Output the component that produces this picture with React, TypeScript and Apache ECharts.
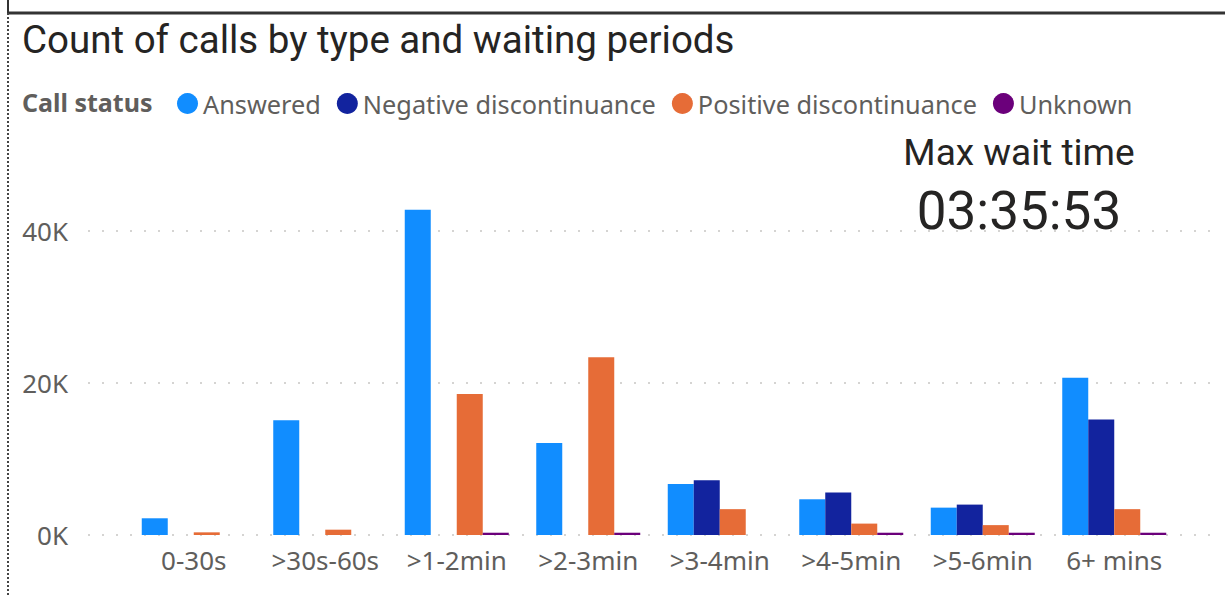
import React, { useEffect, useRef } from "react";
import * as echarts from "echarts";

const categories = ["0-30s", ">30s-60s", ">1-2min", ">2-3min", ">3-4min", ">4-5min", ">5-6min", "6+ mins"];
const answered = [2200, 15100, 42800, 12100, 6700, 4700, 3600, 20700];
const negative = [0, 0, 0, 0, 7200, 5600, 4000, 15200];
const positive = [350, 700, 18550, 23400, 3400, 1500, 1300, 3400];
const unknown = [0, 0, 300, 300, 0, 300, 300, 300];
const seriesNames = ["Answered", "Negative discontinuance", "Positive discontinuance", "Unknown"];
const seriesColors = ["#118DFF", "#12239E", "#E66C37", "#6B007B"];
const yTicks = [0, 20000, 40000];
const maxWaitTime = "03:35:53";

export default function App() {
  const ref = useRef<HTMLDivElement>(null);
  useEffect(() => {
    const chart = echarts.init(ref.current!, null, { renderer: "svg" });
    const grey = "#605E5C";
    const uiFont = "Noto Sans";
    const titleFont = "Roboto";
    const values = [answered, negative, positive, unknown];
    chart.setOption({
      animation: false,
      backgroundColor: "#ffffff",
      textStyle: { fontFamily: uiFont },
      legend: {
        left: 172,
        top: 86,
        icon: "circle",
        itemWidth: 21,
        itemHeight: 21,
        itemGap: 16,
        textStyle: { fontSize: 25.3, color: grey, fontFamily: uiFont },
        data: seriesNames,
      },
      grid: [
        { left: 128, right: 45, top: 155, bottom: 60 },
        { left: 88, right: 13, top: 231, bottom: 60 },
      ],
      xAxis: [
        {
          type: "category",
          gridIndex: 0,
          data: categories,
          axisLine: { show: false },
          axisTick: { show: false },
          axisLabel: { fontSize: 26, color: grey, margin: 12, interval: 0, fontFamily: uiFont },
        },
        { type: "value", gridIndex: 1, show: false, min: 0, max: 1 },
      ],
      yAxis: [
        { type: "value", gridIndex: 0, min: 0, max: 50000, show: false },
        {
          type: "value",
          gridIndex: 1,
          min: yTicks[0],
          max: yTicks[yTicks.length - 1],
          interval: yTicks[1] - yTicks[0],
          axisLine: { show: false },
          axisTick: { show: false },
          axisLabel: {
            fontSize: 26,
            color: grey,
            margin: 20,
            fontFamily: uiFont,
            formatter: (v: number) => `${Math.round(v / 1000)}K`,
          },
          splitLine: { show: true, lineStyle: { color: "#C8C6C4", width: 1.5, type: [2, 12] } },
        },
      ],
      series: seriesNames.map((name, i) => ({
        name,
        type: "bar",
        xAxisIndex: 0,
        yAxisIndex: 0,
        barWidth: 26,
        barGap: "0%",
        itemStyle: { color: seriesColors[i] },
        data: values[i],
      })),
      graphic: [
        { type: "line", shape: { x1: 8, y1: 13, x2: 1225, y2: 13 }, style: { stroke: "#333333", lineWidth: 3 } },
        { type: "line", shape: { x1: 8, y1: 0, x2: 8, y2: 13 }, style: { stroke: "#333333", lineWidth: 2 } },
        { type: "line", shape: { x1: 8, y1: 13, x2: 8, y2: 595 }, style: { stroke: "#444", lineWidth: 2, lineDash: [2, 2] } },
        {
          type: "text",
          left: 22,
          top: 20,
          style: { text: "Count of calls by type and waiting periods", fontSize: 38.5, fill: "#252423", fontFamily: titleFont },
        },
        {
          type: "text",
          left: 22,
          top: 89,
          style: { text: "Call status", fontSize: 25, fontWeight: "bold", fill: grey, fontFamily: uiFont },
        },
        {
          type: "text",
          x: 1019,
          y: 152,
          style: { text: "Max wait time", fontSize: 37, fill: "#252423", fontFamily: titleFont, align: "center", verticalAlign: "middle" },
        },
        {
          type: "text",
          x: 1019,
          y: 211,
          style: { text: maxWaitTime, fontSize: 53, fill: "#252423", fontFamily: titleFont, align: "center", verticalAlign: "middle" },
        },
      ],
    });
    return () => chart.dispose();
  }, []);
  return <div ref={ref} style={{ position: "fixed", left: 0, top: 0, width: 1225, height: 595 }} />;
}
